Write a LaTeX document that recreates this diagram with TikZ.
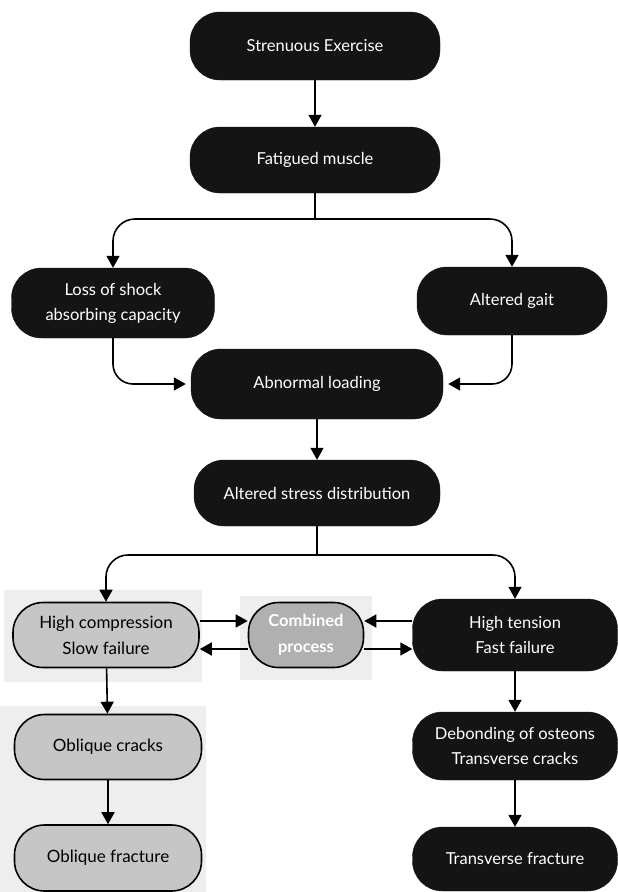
\documentclass[tikz,border=0pt]{standalone}
\usepackage{fontspec}
\setmainfont{Lato}
\usetikzlibrary{arrows.meta}
\begin{document}
\begin{tikzpicture}[x=1pt,y=-1pt,
  flow/.style={line width=1.6pt, -{Triangle[width=13pt,length=12pt]}},
  link/.style={line width=1.6pt},
  blk/.style={draw=black!92, fill=black!92, text=white, rounded corners=30pt,
    align=center, inner sep=0pt, font=\fontsize{16.5}{25}\selectfont},
  gry/.style={draw=black, line width=1.6pt, fill=gray!45, text=black,
    rounded corners=30pt, align=center, inner sep=0pt,
    font=\fontsize{17}{26}\selectfont},
  mix/.style={draw=black, line width=1.6pt, fill=gray!62, text=white,
    rounded corners=30pt, align=center, inner sep=0pt,
    font=\bfseries\fontsize{16.5}{26}\selectfont},
  haze/.style={fill=gray!13, draw=none}
]
\path[use as bounding box, fill=white] (0,0) rectangle (618,892);

% light stippled panels behind the compression branch
\path[haze] (4,590) rectangle (202,682);
\path[haze] (240,596) rectangle (372,680);
\path[haze] (0,706) rectangle (206,892);

% top chain
\node[blk, minimum width=250pt, minimum height=68pt] (se) at (315,46) {Strenuous Exercise};
\node[blk, minimum width=250pt, minimum height=66pt] (fm) at (315,160) {Fatigued muscle};
\node[blk, minimum width=203pt, minimum height=70pt] (ls) at (113,303) {Loss of shock\\absorbing capacity};
\node[blk, minimum width=190pt, minimum height=68pt] (ag) at (512,301) {Altered gait};
\node[blk, minimum width=252pt, minimum height=70pt] (al) at (317,384) {Abnormal loading};
\node[blk, minimum width=246pt, minimum height=66pt] (asd) at (317,493) {Altered stress distribution};

% failure modes
\node[gry, minimum width=186pt, minimum height=65pt] (hc) at (106,635) {High compression\\Slow failure};
\node[mix, minimum width=115pt, minimum height=65pt] (cp) at (306,635) {Combined\\process};
\node[blk, minimum width=205pt, minimum height=72pt] (ht) at (515,635) {High tension\\Fast failure};

\node[gry, minimum width=187pt, minimum height=65pt] (oc) at (108,747) {Oblique cracks};
\node[gry, minimum width=187pt, minimum height=66pt] (of) at (108,858) {Oblique fracture};
\node[blk, minimum width=205pt, minimum height=68pt] (db) at (515,746) {Debonding of osteons\\Transverse cracks};
\node[blk, minimum width=205pt, minimum height=64pt] (tf) at (515,859) {Transverse fracture};

% connectors
\coordinate (j1) at (315,219);
\coordinate (j2) at (317,555);

\draw[flow] (se) -- (fm);
\draw[link] (fm) -- (j1);
\draw[flow, rounded corners=22pt] (j1) -| (ls.north);
\draw[flow, rounded corners=22pt] (j1) -| (ag.north);
\draw[flow, rounded corners=20pt, shorten >=5pt] (ls.south) |- (al.west);
\draw[flow, rounded corners=20pt, shorten >=5pt] (ag.south) |- (al.east);
\draw[flow] (al) -- (asd);
\draw[link] (asd) -- (j2);
\draw[flow, rounded corners=22pt] (j2) -| (hc.north);
\draw[flow, rounded corners=22pt] (j2) -| (ht.north);

\draw[flow] ([yshift=14pt]hc.east) -- ([yshift=14pt]hc.east -| cp.west);
\draw[flow] ([yshift=-14pt]cp.west) -- ([yshift=-14pt]cp.west -| hc.east);
\draw[flow] ([yshift=14pt]ht.west) -- ([yshift=14pt]ht.west -| cp.east);
\draw[flow] ([yshift=-14pt]cp.east) -- ([yshift=-14pt]cp.east -| ht.west);

\draw[flow] (hc) -- (oc);
\draw[flow] (oc) -- (of);
\draw[flow] (ht) -- (db);
\draw[flow] (db) -- (tf);
\end{tikzpicture}
\end{document}
